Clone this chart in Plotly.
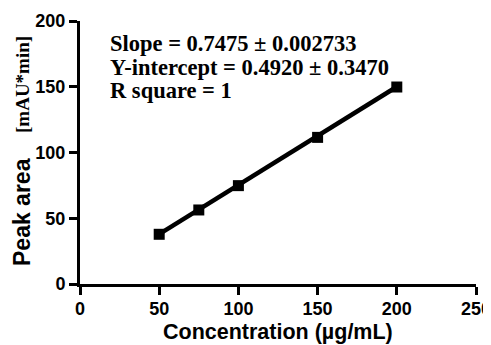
import plotly.graph_objects as go

conc = [50, 75, 100, 150, 200]
peak_area = [37.8, 56.3, 74.8, 111.5, 149.8]
slope = 0.7475
intercept = 0.4920
fit_x = [50, 200]
fit_y = [slope * x + intercept for x in fit_x]
x_ticks = [0, 50, 100, 150, 200, 250]
y_ticks = [0, 50, 100, 150, 200]
stats_lines = ["Slope = 0.7475 ± 0.002733", "Y-intercept = 0.4920 ± 0.3470", "R square = 1"]

# page is 491x345; the browser body adds an 8px margin, so the figure is sized to fit
OFF = 8
W, H = 491 - OFF, 345 - OFF
plot_left, plot_right, plot_top, plot_bottom = 80, 476, 21, 284  # page pixels
L, R, T, B = plot_left - OFF, W - (plot_right - OFF), plot_top - OFF, H - (plot_bottom - OFF)
pw, ph = W - L - R, H - T - B

def px(xp):
    return (xp - plot_left) / pw

def py(yp):
    return 1 - (yp - plot_top) / ph

fig = go.Figure()
fig.add_trace(go.Scatter(x=fit_x, y=fit_y, mode="lines",
                         line=dict(color="black", width=4.5), showlegend=False))
fig.add_trace(go.Scatter(x=conc, y=peak_area, mode="markers",
                         marker=dict(symbol="square", size=11, color="black"),
                         showlegend=False))

for txt, yp in zip(stats_lines, [43, 67.5, 90.5]):
    fig.add_annotation(x=px(108), y=py(yp), xref="paper", yref="paper", showarrow=False,
                       xanchor="left", yanchor="middle", text=txt, align="left",
                       font=dict(family="Liberation Serif", size=22.5, color="black", weight="bold"))

# axis titles
fig.add_annotation(x=px(277.5), y=py(332), xref="paper", yref="paper", showarrow=False,
                   xanchor="center", yanchor="middle", text="Concentration (µg/mL)",
                   font=dict(family="Liberation Sans", size=21.5, color="black", weight="bold"))
fig.add_annotation(x=px(22), y=py(212), xref="paper", yref="paper", showarrow=False,
                   xanchor="center", yanchor="middle", textangle=-90, text="Peak area",
                   font=dict(family="Liberation Sans", size=23, color="black", weight="bold"))
fig.add_annotation(x=px(22), y=py(85), xref="paper", yref="paper", showarrow=False,
                   xanchor="center", yanchor="middle", textangle=-90, text="[mAU*min]",
                   font=dict(family="Liberation Serif", size=19, color="black", weight="bold"))

fig.update_layout(
    width=W, height=H,
    margin=dict(l=L, r=R, t=T, b=B),
    paper_bgcolor="white", plot_bgcolor="white",
    font=dict(family="Liberation Sans", color="black"),
)
fig.update_xaxes(range=[0, 250], tickvals=x_ticks, showgrid=False, zeroline=False,
                 showline=True, linecolor="black", linewidth=3, automargin=False,
                 ticks="outside", ticklen=8, tickwidth=2.5, tickcolor="black",
                 ticklabeloverflow="allow", ticklabelstandoff=-2,
                 tickfont=dict(size=18, weight="bold"))
fig.update_yaxes(range=[0, 200], tickvals=y_ticks, showgrid=False, zeroline=False,
                 showline=True, linecolor="black", linewidth=3, automargin=False,
                 ticks="outside", ticklen=8, tickwidth=2.5, tickcolor="black",
                 ticklabeloverflow="allow",
                 tickfont=dict(size=18, weight="bold"))

fig.write_html("out.html")
